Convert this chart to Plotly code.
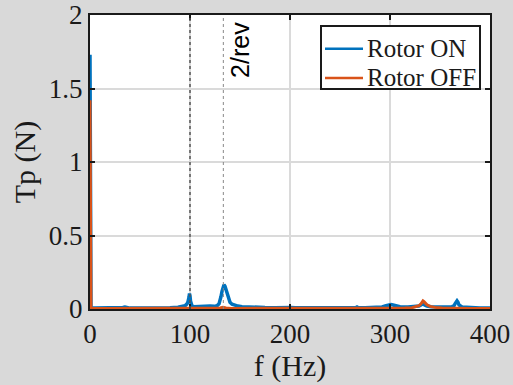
import plotly.graph_objects as go

# Rotor ON spectrum (frequency Hz, amplitude N)
on_f = [0, 0.5, 1, 5, 10, 20, 30, 33, 35, 37, 40, 50, 60, 70, 80, 88, 92, 95, 97, 98, 99, 99.5, 100, 100.5, 101, 102, 104, 108, 112, 116, 118, 120, 124, 127, 129, 130, 131, 132, 133, 134, 135, 136, 137, 138, 139, 140, 142, 145, 148, 152, 158, 165, 175, 185, 195, 199, 200, 201, 205, 215, 225, 231, 232, 233, 240, 250, 260, 266, 267, 268, 275, 285, 292, 296, 299, 301, 303, 306, 310, 318, 325, 329, 331, 333, 335, 337, 341, 345, 352, 358, 362, 364, 365, 366, 367, 368, 369, 372, 380, 390, 400]
on_v = [1.73, 0.02, 0.008, 0.006, 0.006, 0.006, 0.007, 0.01, 0.014, 0.009, 0.006, 0.006, 0.006, 0.007, 0.009, 0.012, 0.016, 0.022, 0.035, 0.05, 0.08, 0.105, 0.09, 0.055, 0.03, 0.02, 0.016, 0.018, 0.02, 0.018, 0.022, 0.02, 0.018, 0.022, 0.035, 0.055, 0.085, 0.12, 0.15, 0.165, 0.155, 0.13, 0.1, 0.075, 0.058, 0.045, 0.032, 0.025, 0.02, 0.016, 0.013, 0.011, 0.01, 0.009, 0.009, 0.012, 0.014, 0.011, 0.008, 0.008, 0.008, 0.009, 0.011, 0.008, 0.007, 0.007, 0.008, 0.01, 0.014, 0.01, 0.008, 0.009, 0.014, 0.022, 0.028, 0.03, 0.027, 0.02, 0.016, 0.014, 0.016, 0.02, 0.028, 0.034, 0.026, 0.02, 0.016, 0.014, 0.012, 0.013, 0.016, 0.022, 0.035, 0.048, 0.055, 0.045, 0.028, 0.014, 0.009, 0.007, 0.006]

# Rotor OFF spectrum
off_f = [0, 0.5, 1, 10, 50, 100, 125, 130, 133, 136, 141, 200, 250, 300, 315, 322, 326, 329, 331, 332, 333, 334, 335, 337, 340, 345, 352, 360, 380, 400]
off_v = [1.42, 0.01, 0.003, 0.003, 0.003, 0.003, 0.004, 0.007, 0.012, 0.007, 0.004, 0.003, 0.003, 0.004, 0.006, 0.009, 0.014, 0.022, 0.035, 0.046, 0.055, 0.05, 0.04, 0.028, 0.018, 0.011, 0.007, 0.005, 0.004, 0.003]

series_names = ["Rotor ON", "Rotor OFF"]
series_colors = ["#0072BD", "#D95319"]

x_ticks = [0, 100, 200, 300, 400]
y_ticks = [0, 0.5, 1, 1.5, 2]
rev2_f = 133.33
mark_f = 100

SERIF = "Liberation Serif"
INK = "#1a1a1a"

fig = go.Figure()
fig.add_trace(go.Scatter(x=on_f, y=on_v, mode="lines", name=series_names[0],
                         line=dict(color=series_colors[0], width=3.5), showlegend=False))
fig.add_trace(go.Scatter(x=off_f, y=off_v, mode="lines", name=series_names[1],
                         line=dict(color=series_colors[1], width=3), showlegend=False))

fig.add_shape(type="line", x0=mark_f, x1=mark_f, y0=0, y1=2, xref="x", yref="y",
              line=dict(color="#555555", width=1.5, dash="dot"), layer="above")
fig.add_shape(type="line", x0=rev2_f, x1=rev2_f, y0=0, y1=2, xref="x", yref="y",
              line=dict(color="#888888", width=1, dash="dot"), layer="above")
fig.add_annotation(x=rev2_f, y=1.765, xref="x", yref="y", text="2/rev", textangle=-90,
                   showarrow=False, xanchor="center", yanchor="middle", xshift=16,
                   font=dict(family="Liberation Sans", size=25, color="black"))

# Legend box (MATLAB style), drawn in axis-domain coordinates
lx0, lx1, ly0, ly1 = 0.5775, 0.975, 0.748, 0.9626
fig.add_shape(type="rect", xref="x domain", yref="y domain", x0=lx0, x1=lx1, y0=ly0, y1=ly1,
              fillcolor="white", line=dict(color=INK, width=2), layer="above")
row_y = [0.885, 0.786]
for name, color, yy in zip(series_names, series_colors, row_y):
    fig.add_shape(type="line", xref="x domain", yref="y domain", x0=0.5875, x1=0.6825,
                  y0=yy, y1=yy, line=dict(color=color, width=2.5), layer="above")
    fig.add_annotation(xref="x domain", yref="y domain", x=0.6865, y=yy, text=name,
                       showarrow=False, xanchor="left", yanchor="middle",
                       font=dict(family=SERIF, size=25, color=INK))

axis_common = dict(showline=True, linecolor=INK, linewidth=2, mirror="ticks",
                   ticks="inside", ticklen=5, tickwidth=2, tickcolor=INK,
                   showgrid=True, gridcolor="#dadada", gridwidth=2, zeroline=False,
                   automargin=False,
                   tickfont=dict(family=SERIF, size=27, color=INK))

fig.update_layout(
    width=513, height=385,
    margin=dict(l=90, r=23, t=15, b=76),
    paper_bgcolor="#d9d9d9", plot_bgcolor="white",
    font=dict(family=SERIF, size=27, color=INK),
    xaxis=dict(range=[0, 400], tickvals=x_ticks, ticktext=[str(v) for v in x_ticks],
               title=dict(text="f (Hz)", standoff=0, font=dict(family=SERIF, size=30, color=INK)),
               **axis_common),
    yaxis=dict(range=[0, 2], tickvals=y_ticks, ticktext=["0", "0.5", "1", "1.5", "2"],
               title=dict(text="Tp (N)", standoff=4, font=dict(family=SERIF, size=30, color=INK)),
               **axis_common),
    showlegend=False,
)

fig.write_html("out.html")
